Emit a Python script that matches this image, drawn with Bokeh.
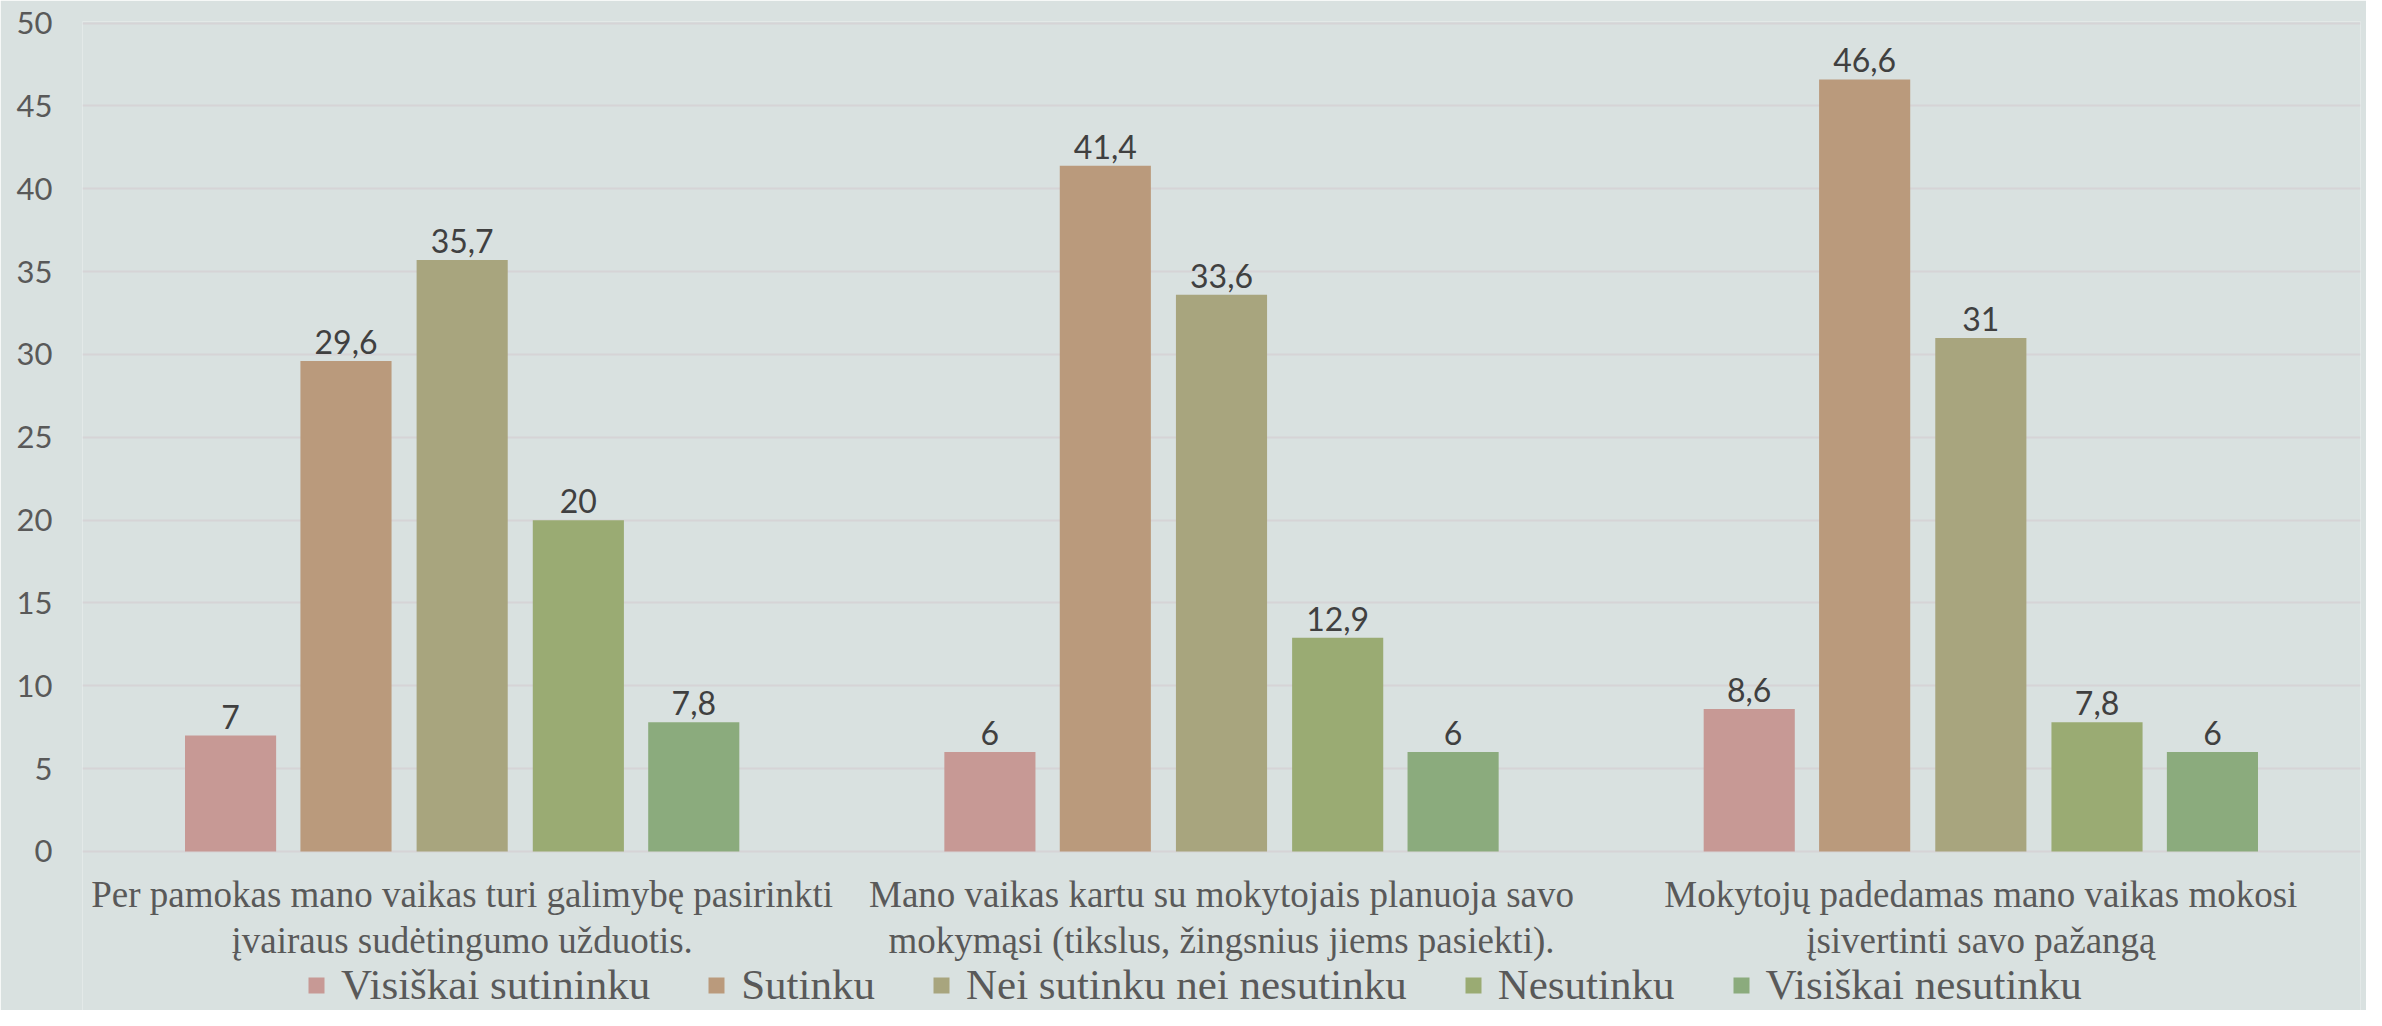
from bokeh.plotting import figure
from bokeh.models import FactorRange, Range1d, FixedTicker, ColumnDataSource, Legend, LegendItem
from bokeh.transform import dodge
from bokeh.core.properties import value
from bokeh.embed import file_html
from bokeh.resources import INLINE

categories = [
    "Per pamokas mano vaikas turi galimybę pasirinkti\nįvairaus sudėtingumo užduotis.",
    "Mano vaikas kartu su mokytojais planuoja savo\nmokymąsi (tikslus, žingsnius jiems pasiekti).",
    "Mokytojų padedamas mano vaikas mokosi\nįsivertinti savo pažangą",
]
series_names = ["Visiškai sutininku", "Sutinku", "Nei sutinku nei nesutinku", "Nesutinku", "Visiškai nesutinku"]
visiskai_sutinku = [7, 6, 8.6]
sutinku = [29.6, 41.4, 46.6]
nei = [35.7, 33.6, 31]
nesutinku = [20, 12.9, 7.8]
visiskai_nesutinku = [7.8, 6, 6]
y_ticks = [0, 5, 10, 15, 20, 25, 30, 35, 40, 45, 50]

series_values = [visiskai_sutinku, sutinku, nei, nesutinku, visiskai_nesutinku]
colors = ["#c79995", "#ba9a7c", "#a8a57e", "#9aab73", "#8bab7d"]
offsets = [-0.305, -0.153, 0.0, 0.153, 0.305]

def fmt(v):
    return ("%g" % v).replace(".", ",")

BG = "#d9e1e0"
# frame extends below zero so that category labels and legend live inside it
p = figure(
    x_range=FactorRange(factors=categories, range_padding=0),
    y_range=Range1d(-9.6, 50.1),
    width=2366, height=1010,
    output_backend="svg", toolbar_location=None,
    min_border_left=82, min_border_right=6, min_border_top=21, min_border_bottom=0,
    background_fill_color=BG, border_fill_color=BG,
)
p.outline_line_color = None

items = []
for name, vals, col, off in zip(series_names, series_values, colors, offsets):
    src = ColumnDataSource(dict(cat=categories, val=vals, lab=[fmt(v) for v in vals]))
    r = p.vbar(x=dodge("cat", off, range=p.x_range), top="val", bottom=0, width=0.12,
               source=src, fill_color=col, line_color=None)
    p.text(x=dodge("cat", off, range=p.x_range), y="val", text="lab", source=src,
           text_align="center", text_baseline="alphabetic", y_offset=-19,
           text_font=value("Lato"), text_font_size="32px", text_color="#404040")
    items.append(LegendItem(label=name, renderers=[r]))

# category labels (x axis labels) just below the zero line
cat_src = ColumnDataSource(dict(cat=categories, base=[0] * len(categories)))
p.text(x="cat", y="base", text="cat", source=cat_src, text_align="center",
       text_baseline="top", y_offset=23, text_line_height=1.11,
       text_font=value("Liberation Serif"), text_font_size="37px", text_color="#595959")

p.xaxis.visible = False
p.xgrid.grid_line_color = None
p.ygrid.grid_line_color = "#d6d4d6"
p.ygrid.grid_line_width = 2
p.yaxis.ticker = FixedTicker(ticks=y_ticks)

ax = p.yaxis[0]
ax.axis_line_color = None
ax.major_tick_line_color = None
ax.minor_tick_line_color = None
ax.major_tick_out = 0
ax.major_tick_in = 0
ax.major_label_text_font = "Lato"
ax.major_label_text_font_size = "31px"
ax.major_label_text_color = "#595959"
ax.major_label_standoff = 30

legend = Legend(items=items, orientation="horizontal", location=(224, 1),
                glyph_width=20, glyph_height=20, label_standoff=15, spacing=56,
                padding=0, margin=0, border_line_color=None, background_fill_alpha=0,
                label_text_font="Liberation Serif", label_text_font_size="43px",
                label_text_color="#595959", label_height=20)
p.add_layout(legend, "center")

open("out.html", "w").write(file_html(p, INLINE))
